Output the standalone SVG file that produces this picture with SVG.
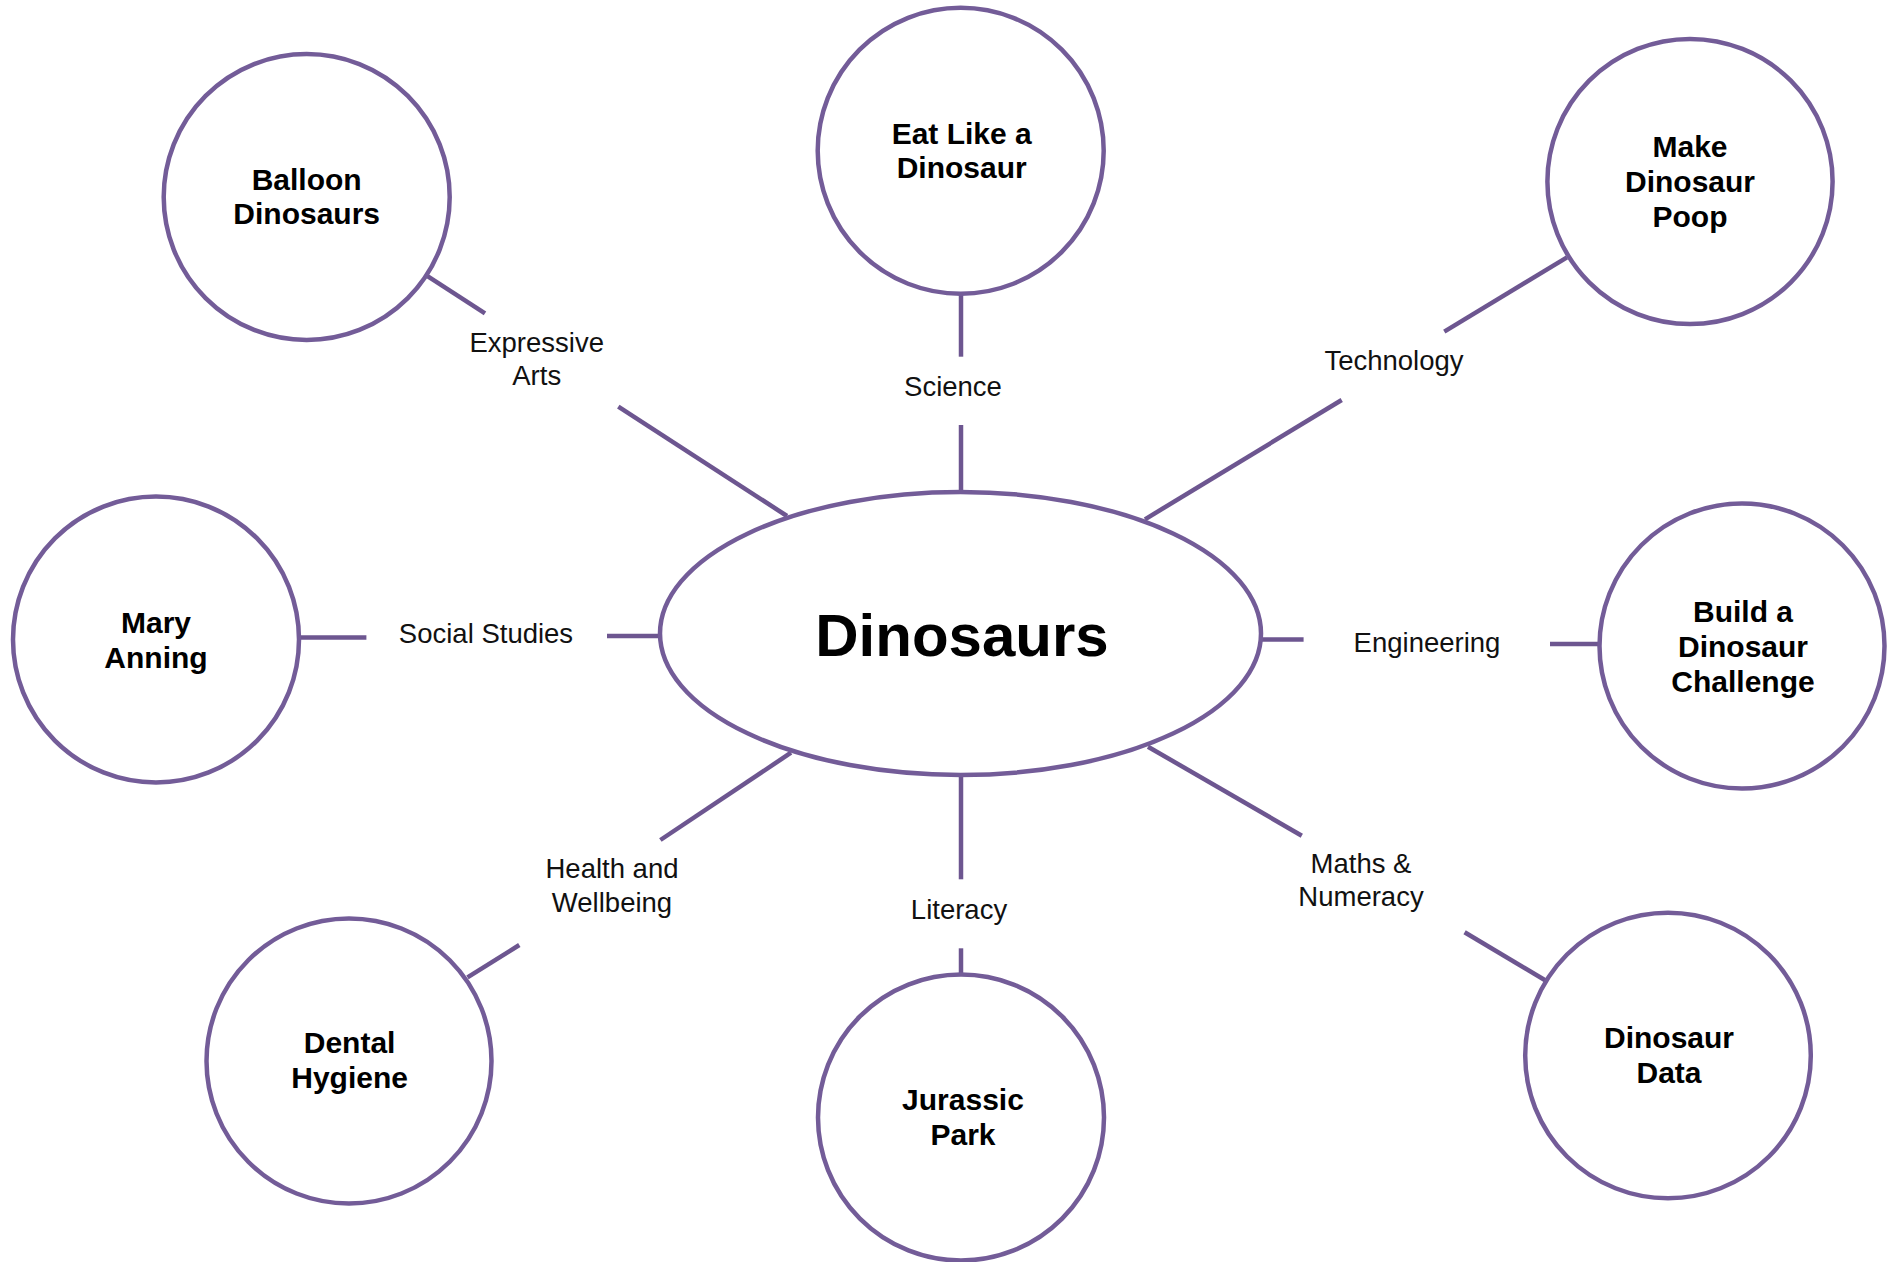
<svg xmlns="http://www.w3.org/2000/svg" width="1896" height="1262" viewBox="0 0 1896 1262">
<style>
.node{fill:#ffffff;stroke:#735C98;stroke-width:4.5}
.conn line{stroke:#6D5690;stroke-width:4.5;fill:none}
.t{font-family:"Liberation Sans",Arial,sans-serif;font-weight:bold;font-size:30px;fill:#000;text-anchor:middle}
.lbl{font-family:"Liberation Sans",Arial,sans-serif;font-size:27.5px;fill:#111;text-anchor:middle}
.big{font-family:"Liberation Sans",Arial,sans-serif;font-weight:bold;font-size:60px;fill:#000;text-anchor:middle}
</style>
<rect width="1896" height="1262" fill="#ffffff"/>
<g id="connectors" class="conn">
  <line x1="426.7" y1="275.7" x2="485" y2="313.3"/>
  <line x1="618.3" y1="406.7" x2="787" y2="516"/>
  <line x1="961" y1="292" x2="961" y2="356.7"/>
  <line x1="961" y1="425" x2="961" y2="493"/>
  <line x1="1567" y1="257.3" x2="1444.3" y2="331.7"/>
  <line x1="1341.7" y1="400" x2="1145" y2="519.3"/>
  <line x1="297" y1="637.5" x2="366.4" y2="637.5"/>
  <line x1="607" y1="636" x2="661" y2="636"/>
  <line x1="1260" y1="639.5" x2="1303.6" y2="639.5"/>
  <line x1="1550" y1="644" x2="1602" y2="644"/>
  <line x1="467.5" y1="977.3" x2="519.3" y2="945"/>
  <line x1="660.4" y1="840" x2="791" y2="752.7"/>
  <line x1="961" y1="774" x2="961" y2="879.3"/>
  <line x1="961" y1="948.3" x2="961" y2="976"/>
  <line x1="1148" y1="746.7" x2="1301.8" y2="835.7"/>
  <line x1="1464.6" y1="932.3" x2="1546" y2="980.7"/>
</g>
<g id="connector-labels">
  <text class="lbl" x="536.7" y="351.7">Expressive</text>
  <text class="lbl" x="536.7" y="385">Arts</text>
  <text class="lbl" x="953" y="396">Science</text>
  <text class="lbl" x="1394" y="370">Technology</text>
  <text class="lbl" x="486" y="643">Social Studies</text>
  <text class="lbl" x="1427" y="651.7">Engineering</text>
  <text class="lbl" x="612" y="878.3">Health and</text>
  <text class="lbl" x="612" y="911.7">Wellbeing</text>
  <text class="lbl" x="959" y="919.3">Literacy</text>
  <text class="lbl" x="1361" y="872.7">Maths &amp;</text>
  <text class="lbl" x="1361" y="906">Numeracy</text>
</g>
<g id="dinosaurs">
  <ellipse class="node" cx="960.5" cy="633.5" rx="300.5" ry="141.5"/>
  <text class="big" x="962" y="656">Dinosaurs</text>
</g>
<g id="balloon-dinosaurs">
  <circle class="node" cx="306.7" cy="197" r="143"/>
  <text class="t" x="306.7" y="190">Balloon</text>
  <text class="t" x="306.7" y="224">Dinosaurs</text>
</g>
<g id="eat-like-a-dinosaur">
  <circle class="node" cx="960.7" cy="150.8" r="143"/>
  <text class="t" x="961.7" y="144.3">Eat Like a</text>
  <text class="t" x="961.7" y="178.3">Dinosaur</text>
</g>
<g id="make-dinosaur-poop">
  <circle class="node" cx="1690" cy="181.5" r="142.6"/>
  <text class="t" x="1690" y="156.7">Make</text>
  <text class="t" x="1690" y="191.7">Dinosaur</text>
  <text class="t" x="1690" y="226.7">Poop</text>
</g>
<g id="mary-anning">
  <circle class="node" cx="156" cy="639.5" r="143"/>
  <text class="t" x="156" y="633">Mary</text>
  <text class="t" x="156" y="668">Anning</text>
</g>
<g id="build-a-dinosaur-challenge">
  <circle class="node" cx="1742" cy="646" r="142.5"/>
  <text class="t" x="1743" y="621.7">Build a</text>
  <text class="t" x="1743" y="656.7">Dinosaur</text>
  <text class="t" x="1743" y="691.7">Challenge</text>
</g>
<g id="dental-hygiene">
  <circle class="node" cx="349" cy="1061" r="142.5"/>
  <text class="t" x="349.6" y="1053.3">Dental</text>
  <text class="t" x="349.6" y="1088.3">Hygiene</text>
</g>
<g id="jurassic-park">
  <circle class="node" cx="961" cy="1117.5" r="143"/>
  <text class="t" x="963" y="1110">Jurassic</text>
  <text class="t" x="963" y="1145">Park</text>
</g>
<g id="dinosaur-data">
  <circle class="node" cx="1668" cy="1055.5" r="142.8"/>
  <text class="t" x="1669" y="1048.3">Dinosaur</text>
  <text class="t" x="1669" y="1083.3">Data</text>
</g>
</svg>
